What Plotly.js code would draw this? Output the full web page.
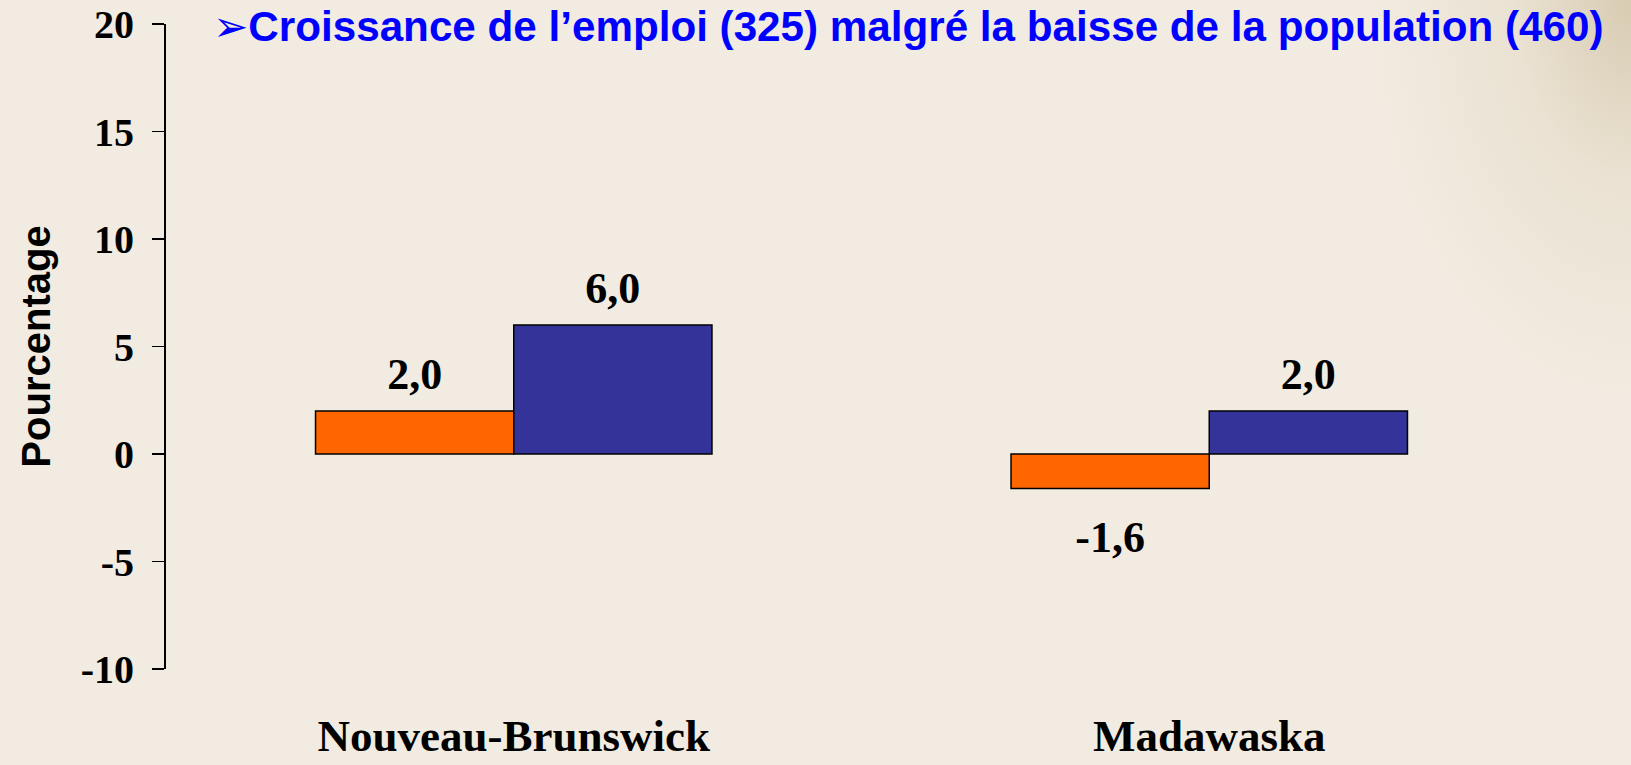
<!DOCTYPE html>
<html><head><meta charset="utf-8">
<script src="https://cdn.plot.ly/plotly-3.0.1.min.js"></script>
<style>
html,body{margin:0;padding:0;width:1631px;height:765px;overflow:hidden;}
body{background-color:#F1EBE1;
background-image:radial-gradient(ellipse 260px 400px at 100% 0%, rgba(205,190,158,0.7) 0%, rgba(224,212,188,0.4) 45%, rgba(241,235,225,0) 100%);}
#chart{width:1631px;height:765px;}
</style></head><body><div id="chart"></div>
<script>
const categories = ['Nouveau-Brunswick', 'Madawaska'];
const seriesNames = ['Population', 'Emploi'];
const population = [2.0, -1.6];
const emploi = [6.0, 2.0];
const seriesColors = ['#FF6600', '#333399'];
const yRange = [-10, 20];
const yTickVals = [-10, -5, 0, 5, 10, 15, 20];
const yTickText = ['-10', '-5', '0', '5', '10', '15', '20'];
const titleText = '➢Croissance de l’emploi (325) malgré la baisse de la population (460)';
const yTitle = 'Pourcentage';

const series = [population, emploi];
const fmt = v => v.toFixed(1).replace('.', ',');

const traces = [];
series.forEach((vals, k) => {
  traces.push({
    type: 'bar', name: seriesNames[k], x: categories, y: vals,
    marker: {color: seriesColors[k], line: {color: '#000000', width: 1.5}},
    hoverinfo: 'skip'
  });
});
series.forEach((vals, k) => {
  traces.push({
    type: 'scatter', mode: 'markers+text', orientation: 'v', name: seriesNames[k] + ' labels',
    x: categories, y: vals,
    text: vals.map(fmt),
    textposition: vals.map(v => v >= 0 ? 'top center' : 'bottom center'),
    marker: {size: vals.map(v => v >= 0 ? 16 : 48), opacity: 0},
    textfont: {family: 'Liberation Serif, Times New Roman, serif', size: 44, color: '#000000', weight: 'bold'},
    cliponaxis: false, hoverinfo: 'skip', showlegend: false
  });
});

const layout = {
  width: 1631, height: 765,
  margin: {l: 166, r: 74, t: 24, b: 96, pad: 0},
  paper_bgcolor: 'rgba(0,0,0,0)', plot_bgcolor: 'rgba(0,0,0,0)',
  showlegend: false,
  barmode: 'group', bargap: 0.43, bargroupgap: 0,
  scattermode: 'group', scattergap: 0.43,
  title: {
    text: '<b>' + titleText + '</b>',
    font: {family: 'Liberation Sans, Arial, DejaVu Sans, sans-serif', size: 42.2, color: '#0000FF'},
    x: 213 / 1631, xanchor: 'left', xref: 'container',
    y: 1 - 26 / 765, yanchor: 'middle', yref: 'container'
  },
  xaxis: {
    type: 'category', showline: false, ticks: '', showgrid: false, zeroline: false,
    tickfont: {family: 'Liberation Serif, Times New Roman, serif', size: 45, color: '#000000', weight: 'bold'},
    ticklabelstandoff: 36, automargin: false
  },
  xaxis2: {
    type: 'linear', overlaying: 'x', anchor: 'free',
    position: (0 - yRange[0]) / (yRange[1] - yRange[0]),
    range: [-0.5, categories.length - 0.5],
    tickvals: categories.map((c, i) => i + 0.5),
    ticks: 'outside', ticklen: 12, tickwidth: 1.5, tickcolor: '#000000',
    showline: true, linecolor: '#1a1a1a', linewidth: 1.5,
    showticklabels: false, showgrid: false, zeroline: false, automargin: false
  },
  yaxis: {
    range: yRange, tickvals: yTickVals, ticktext: yTickText,
    ticks: 'outside', ticklen: 12, tickwidth: 1.5, tickcolor: '#000000',
    showline: true, linecolor: '#000000', linewidth: 2,
    showgrid: false, zeroline: false, automargin: false,
    tickfont: {family: 'Liberation Serif, Times New Roman, serif', size: 40, color: '#000000', weight: 'bold'},
    ticklabelstandoff: 10,
    title: {text: '<b>' + yTitle + '</b>', font: {family: 'Liberation Sans, Arial, sans-serif', size: 40, color: '#000000'}, standoff: 18}
  }
};

Plotly.newPlot('chart', traces, layout, {displayModeBar: false, staticPlot: true});
</script></body></html>
